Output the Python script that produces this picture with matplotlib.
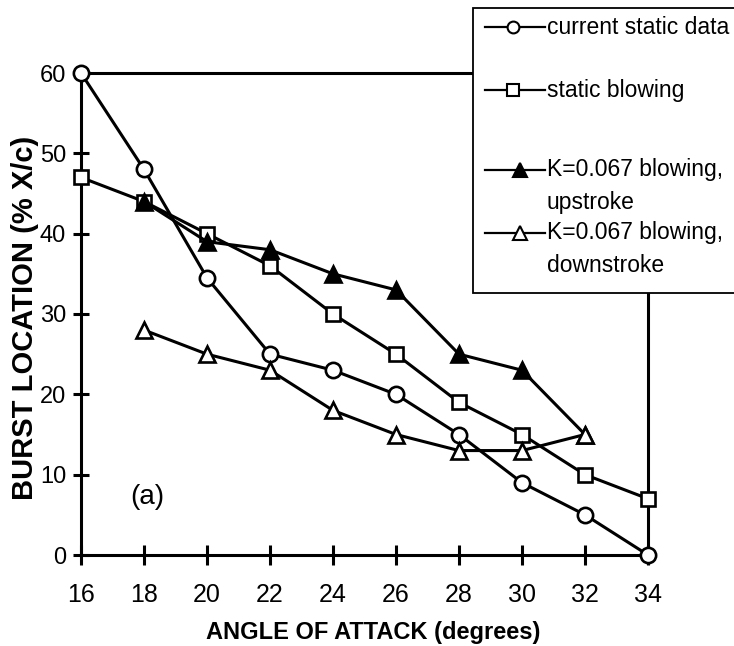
import matplotlib
matplotlib.use("Agg")
import matplotlib.pyplot as plt
from matplotlib.lines import Line2D
from matplotlib.patches import Rectangle

plt.rcParams['font.family'] = ['Liberation Sans', 'DejaVu Sans']

# data
alpha = [16, 18, 20, 22, 24, 26, 28, 30, 32, 34]
static_current = [60, 48, 34.5, 25, 23, 20, 15, 9, 5, 0]
static_blowing = [47, 44, 40, 36, 30, 25, 19, 15, 10, 7]

alpha_dyn = [18, 20, 22, 24, 26, 28, 30, 32]
upstroke = [44, 39, 38, 35, 33, 25, 23, 15]
downstroke = [28, 25, 23, 18, 15, 13, 13, 15]

labels = ["current static data", "static blowing",
          "K=0.067 blowing,\nupstroke", "K=0.067 blowing,\ndownstroke"]

W, H = 734, 646
fig = plt.figure(figsize=(W / 100, H / 100), dpi=100)
ax = fig.add_axes([81 / W, 1 - 555 / H, (648 - 81) / W, (555 - 73) / H])

lw = 2.2
styles = [
    dict(marker='o', mfc='white', ms=11),
    dict(marker='s', mfc='white', ms=10.5),
    dict(marker='^', mfc='black', ms=12),
    dict(marker='^', mfc='white', ms=12),
]
series = [(alpha, static_current), (alpha, static_blowing),
          (alpha_dyn, upstroke), (alpha_dyn, downstroke)]
for (x, y), st in zip(series, styles):
    ax.plot(x, y, color='black', lw=lw, marker=st['marker'], ms=st['ms'],
            mfc=st['mfc'], mec='black', mew=1.9, clip_on=False, zorder=3)

ax.set_xlim(16, 34)
ax.set_ylim(0, 60)
ax.set_xticks(range(16, 35, 2))
ax.set_yticks(range(0, 61, 10))
for s in ax.spines.values():
    s.set_linewidth(2.2)
ax.tick_params(axis='x', direction='inout', length=14.4, width=2.2,
               labelsize=18, pad=13)
ax.tick_params(axis='y', direction='inout', length=11.5, width=2.2,
               labelsize=17, pad=5)

ax.set_xlabel("ANGLE OF ATTACK (degrees)", fontsize=17, fontweight='bold')
ax.xaxis.set_label_coords((373 - 81) / (648 - 81), -(632 - 555) / (555 - 73))
ax.xaxis.label.set_va('center')
ax.set_ylabel("BURST LOCATION (% X/c)", fontsize=21, fontweight='bold')
ax.yaxis.set_label_coords(-(81 - 25) / (648 - 81), (555 - 318) / (555 - 73))
ax.yaxis.label.set_va('center')
ax.text(18.1, 7.2, "(a)", fontsize=20, ha='center', va='center')

# legend box drawn by hand, overlapping the top-right corner
def fx(px):
    return px / W

def fy(py):
    return 1 - py / H

box = Rectangle((fx(473), fy(293)), fx(740) - fx(473), fy(8) - fy(293),
                transform=fig.transFigure, facecolor='white',
                edgecolor='black', lw=1.3, zorder=10)
fig.add_artist(box)

rows = [27, 90, 170, 233]
sub_rows = [None, None, 202, 265]
mark_x = [513, 513, 520, 520]
for st, lab, ry, sr, mx in zip(styles, labels, rows, sub_rows, mark_x):
    h = Line2D([fx(485), fx(545)], [fy(ry), fy(ry)], transform=fig.transFigure,
               color='black', lw=1.6, zorder=11)
    fig.add_artist(h)
    m = Line2D([fx(mx)], [fy(ry)], transform=fig.transFigure, color='black',
               marker=st['marker'], ms=st['ms'] - 2.5, mfc=st['mfc'],
               mec='black', mew=1.5, zorder=12)
    fig.add_artist(m)
    parts = lab.split("\n")
    fig.text(fx(547), fy(ry), parts[0], fontsize=16.5, va='center', ha='left',
             zorder=12)
    if sr is not None:
        fig.text(fx(547), fy(sr), parts[1], fontsize=16.5, va='center',
                 ha='left', zorder=12)

fig.savefig("out.png", dpi=100)
